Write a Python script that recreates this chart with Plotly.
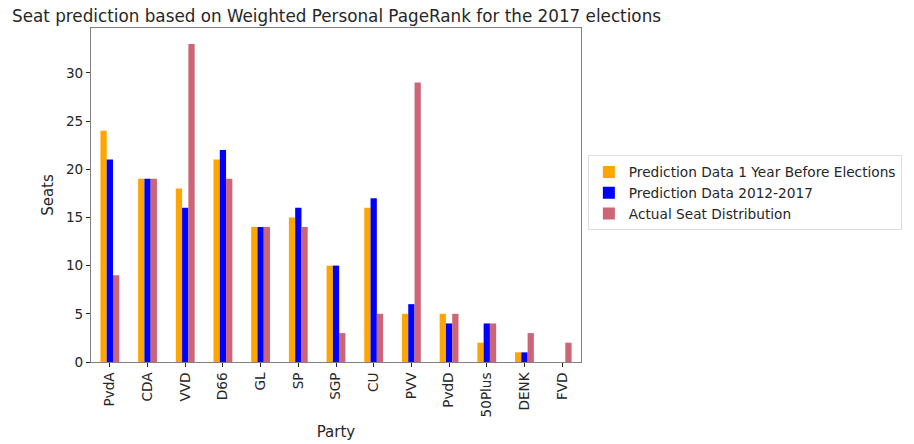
import plotly.graph_objects as go

parties = ["PvdA", "CDA", "VVD", "D66", "GL", "SP", "SGP", "CU", "PVV", "PvdD", "50Plus", "DENK", "FVD"]
pred_1year = [24, 19, 18, 21, 14, 15, 10, 16, 5, 5, 2, 1, 0]
pred_2012_2017 = [21, 19, 16, 22, 14, 16, 10, 17, 6, 4, 4, 1, 0]
actual = [9, 19, 33, 19, 14, 14, 3, 5, 29, 5, 4, 3, 2]

series_names = ["Prediction Data 1 Year Before Elections", "Prediction Data 2012-2017", "Actual Seat Distribution"]
colors = ["#FFA500", "#0000FF", "#CC6677"]

fig = go.Figure()
for name, vals, c in zip(series_names, [pred_1year, pred_2012_2017, actual], colors):
    fig.add_trace(go.Bar(x=parties, y=vals, name=name, marker=dict(color=c, line=dict(width=0))))

font = "DejaVu Sans, sans-serif"
fig.update_layout(
    width=914, height=444,
    margin=dict(l=91, r=331, t=28, b=82),
    paper_bgcolor="white", plot_bgcolor="white",
    barmode="group", bargap=0.5, bargroupgap=0,
    font=dict(family=font, size=13.6, color="#262626"),
    title=dict(text="Seat prediction based on Weighted Personal PageRank for the 2017 elections",
               x=12/914, xanchor="left", y=1-16/444, yanchor="middle",
               font=dict(family=font, size=16.8, color="#262626")),
    legend=dict(x=1.014, xanchor="left", y=0.506, yanchor="middle",
                bordercolor="#DDDDDD", borderwidth=1, bgcolor="white",
                font=dict(family=font, size=13.7, color="#262626"),
                tracegroupgap=0),
    xaxis=dict(title=dict(text="Party", font=dict(size=15), standoff=10),
               tickangle=-90, showline=True, linecolor="#808080", mirror=True,
               ticks="outside", ticklen=4, tickcolor="#262626", showgrid=False,
               range=[-0.5, 12.5], automargin=False),
    yaxis=dict(title=dict(text="Seats", font=dict(size=15), standoff=8),
               range=[0, 34.65], tickvals=[0, 5, 10, 15, 20, 25, 30],
               showline=True, linecolor="#808080", mirror=True,
               ticks="outside", ticklen=4, tickcolor="#262626", showgrid=False,
               zeroline=False, automargin=False),
)

fig.write_html("out.html")
